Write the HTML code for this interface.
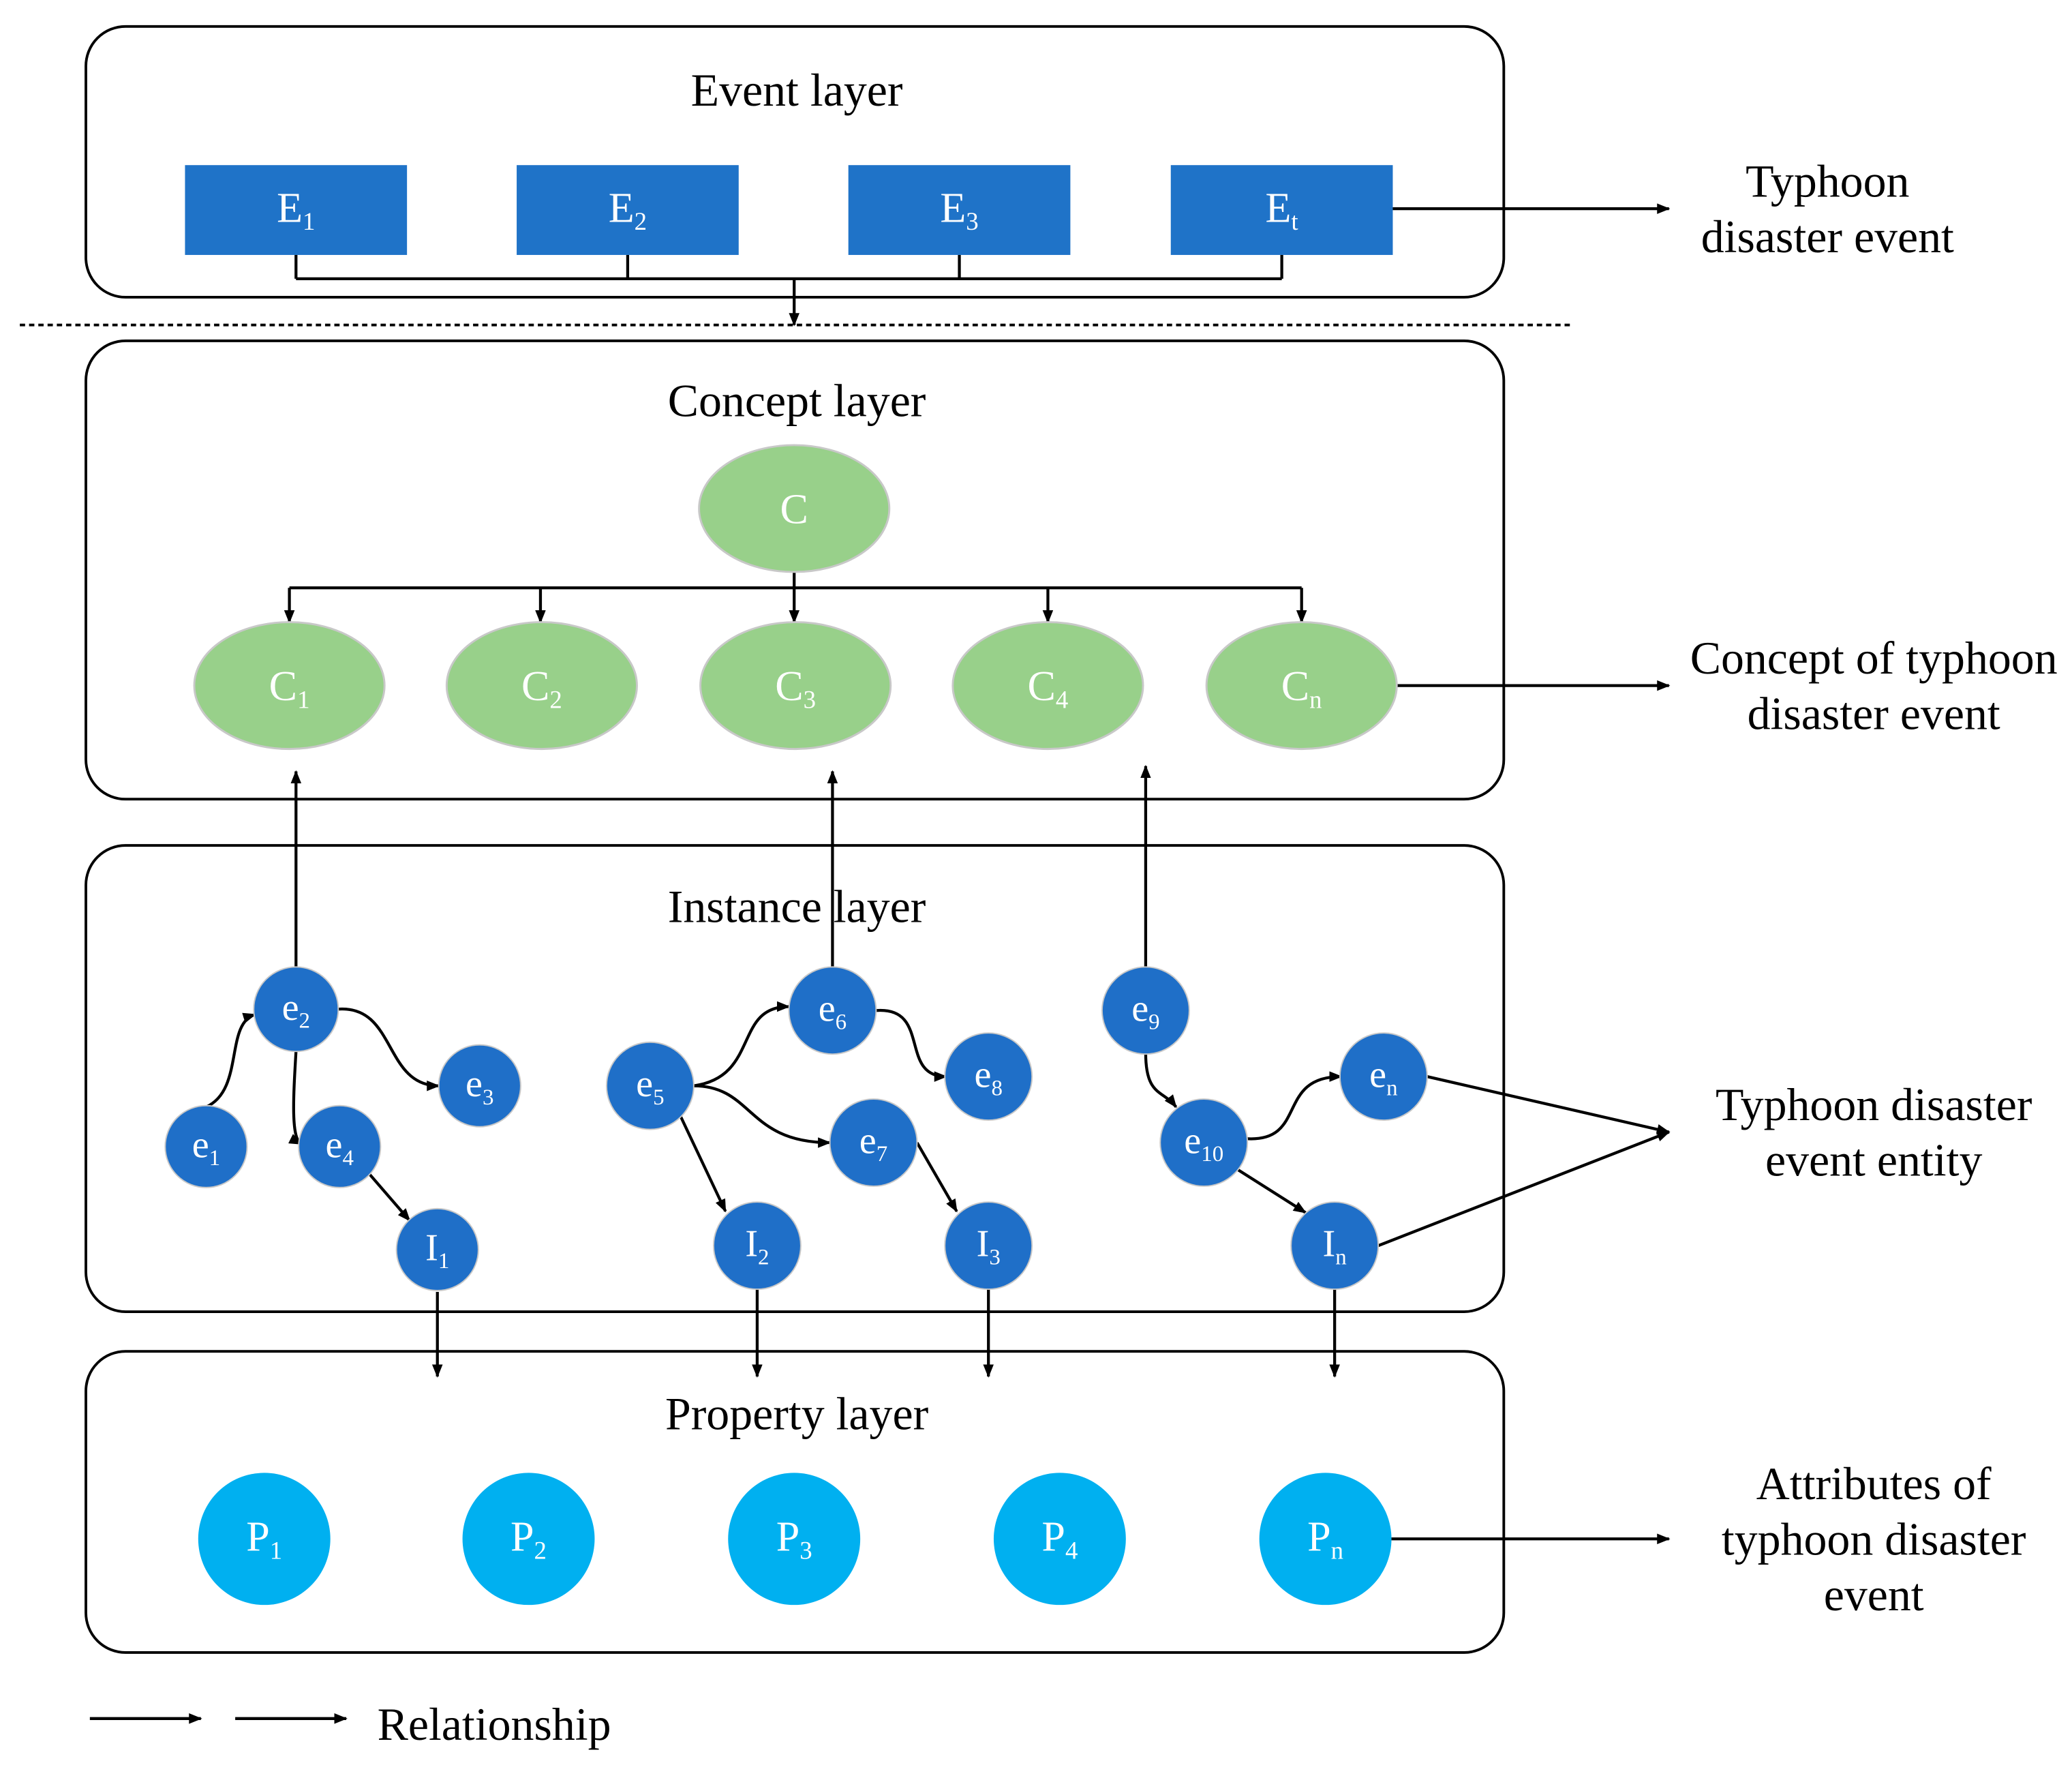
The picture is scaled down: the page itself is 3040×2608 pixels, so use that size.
<!DOCTYPE html>
<html><head><meta charset="utf-8"><style>
html,body{margin:0;padding:0;background:#fff;}
svg{display:block;}
text{font-family:"Liberation Serif",serif;}
</style></head><body>
<svg width="3040" height="2608" viewBox="0 0 1568 1346" preserveAspectRatio="none" xmlns="http://www.w3.org/2000/svg">
<defs>
<marker id="a" markerWidth="10" markerHeight="8" refX="9" refY="4" orient="auto" markerUnits="userSpaceOnUse"><path d="M0,0 L10,4 L0,8 Z" fill="#000"/></marker>
</defs>
<g fill="none" stroke="#000" stroke-width="2">
<rect x="65" y="20" width="1073" height="205" rx="30"/>
<rect x="65" y="258" width="1073" height="347" rx="30"/>
<rect x="65" y="640" width="1073" height="353" rx="30"/>
<rect x="65" y="1023" width="1073" height="228" rx="30"/>
<line x1="15" y1="246" x2="1188" y2="246" stroke-dasharray="4,3"/>
</g>
<g font-size="35" text-anchor="middle" fill="#000">
<text x="603" y="80">Event layer</text>
<text x="603" y="315">Concept layer</text>
<text x="603" y="698">Instance layer</text>
<text x="603" y="1082">Property layer</text>
<text x="1383" y="149">Typhoon</text>
<text x="1383" y="191">disaster event</text>
<text x="1418" y="510">Concept of typhoon</text>
<text x="1418" y="552">disaster event</text>
<text x="1418" y="848">Typhoon disaster</text>
<text x="1418" y="890">event entity</text>
<text x="1418" y="1135">Attributes of</text>
<text x="1418" y="1177">typhoon disaster</text>
<text x="1418" y="1219">event</text>
<text x="374" y="1317">Relationship</text>
</g>
<g fill="#1f73c8">
<rect x="140" y="125" width="168" height="68"/>
<rect x="391" y="125" width="168" height="68"/>
<rect x="642" y="125" width="168" height="68"/>
<rect x="886" y="125" width="168" height="68"/>
</g>
<g fill="none" stroke="#000" stroke-width="2.2">
<path d="M224,193 V211 M475,193 V211 M726,193 V211 M970,193 V211 M224,211 H970"/>
<line x1="601" y1="211" x2="601" y2="246" marker-end="url(#a)"/>
<line x1="1054" y1="158" x2="1263" y2="158" marker-end="url(#a)"/>
<path d="M601,433 V445 M219,445 H985"/>
<line x1="219" y1="445" x2="219" y2="471" marker-end="url(#a)"/>
<line x1="409" y1="445" x2="409" y2="471" marker-end="url(#a)"/>
<line x1="601" y1="445" x2="601" y2="471" marker-end="url(#a)"/>
<line x1="793" y1="445" x2="793" y2="471" marker-end="url(#a)"/>
<line x1="985" y1="445" x2="985" y2="471" marker-end="url(#a)"/>
<line x1="1057" y1="519" x2="1263" y2="519" marker-end="url(#a)"/>
<line x1="224" y1="732" x2="224" y2="584" marker-end="url(#a)"/>
<line x1="630" y1="733" x2="630" y2="584" marker-end="url(#a)"/>
<line x1="867" y1="733" x2="867" y2="580" marker-end="url(#a)"/>
<path d="M156,838 C185,825 170,775 193,768" marker-end="url(#a)"/>
<path d="M255,764 C300,760 290,822 332,822" marker-end="url(#a)"/>
<path d="M224,796 C222,830 220,862 228,866" marker-end="url(#a)"/>
<line x1="278" y1="887" x2="310" y2="924" marker-end="url(#a)"/>
<path d="M525,822 C575,815 555,762 597,762" marker-end="url(#a)"/>
<path d="M525,822 C570,822 565,865 628,865" marker-end="url(#a)"/>
<line x1="515" y1="845" x2="549" y2="917" marker-end="url(#a)"/>
<path d="M663,765 C705,762 680,815 716,815" marker-end="url(#a)"/>
<line x1="694" y1="865" x2="724" y2="917" marker-end="url(#a)"/>
<path d="M867,797 C867,830 880,825 890,838" marker-end="url(#a)"/>
<path d="M943,862 C990,865 965,815 1015,815" marker-end="url(#a)"/>
<line x1="936" y1="885" x2="988" y2="918" marker-end="url(#a)"/>
<line x1="1080" y1="815" x2="1263" y2="857" marker-end="url(#a)"/>
<line x1="1043" y1="943" x2="1263" y2="857" marker-end="url(#a)"/>
<line x1="331" y1="978" x2="331" y2="1042" marker-end="url(#a)"/>
<line x1="573" y1="975" x2="573" y2="1042" marker-end="url(#a)"/>
<line x1="748" y1="975" x2="748" y2="1042" marker-end="url(#a)"/>
<line x1="1010" y1="975" x2="1010" y2="1042" marker-end="url(#a)"/>
<line x1="1053" y1="1165" x2="1263" y2="1165" marker-end="url(#a)"/>
<line x1="68" y1="1301" x2="152" y2="1301" marker-end="url(#a)"/>
<line x1="178" y1="1301" x2="262" y2="1301" marker-end="url(#a)"/>
</g>
<g fill="#98d08a" stroke="#c8c8c8" stroke-width="1.5">
<ellipse cx="601" cy="385" rx="72" ry="48"/>
<ellipse cx="219" cy="519" rx="72" ry="48"/>
<ellipse cx="410" cy="519" rx="72" ry="48"/>
<ellipse cx="602" cy="519" rx="72" ry="48"/>
<ellipse cx="793" cy="519" rx="72" ry="48"/>
<ellipse cx="985" cy="519" rx="72" ry="48"/>
</g>
<g fill="#1f6fc8" stroke="#c8c8c8" stroke-width="1">
<circle cx="224" cy="764" r="32"/><circle cx="156" cy="868" r="31"/><circle cx="257" cy="868" r="31"/>
<circle cx="363" cy="822" r="31"/><circle cx="331" cy="946" r="31"/><circle cx="492" cy="822" r="33"/>
<circle cx="630" cy="765" r="33"/><circle cx="748" cy="815" r="33"/><circle cx="661" cy="865" r="33"/>
<circle cx="573" cy="943" r="33"/><circle cx="748" cy="943" r="33"/><circle cx="867" cy="765" r="33"/>
<circle cx="911" cy="865" r="33"/><circle cx="1047" cy="815" r="33"/><circle cx="1010" cy="943" r="33"/>
</g>
<g fill="#00b0f0">
<circle cx="200" cy="1165" r="50"/><circle cx="400" cy="1165" r="50"/><circle cx="601" cy="1165" r="50"/>
<circle cx="802" cy="1165" r="50"/><circle cx="1003" cy="1165" r="50"/>
</g>
<g fill="#fff" font-size="32" text-anchor="middle">
<text x="224" y="168">E<tspan font-size="19" dy="6">1</tspan></text>
<text x="475" y="168">E<tspan font-size="19" dy="6">2</tspan></text>
<text x="726" y="168">E<tspan font-size="19" dy="6">3</tspan></text>
<text x="970" y="168">E<tspan font-size="19" dy="6">t</tspan></text>
<text x="601" y="396">C</text>
<text x="219" y="530">C<tspan font-size="19" dy="6">1</tspan></text>
<text x="410" y="530">C<tspan font-size="19" dy="6">2</tspan></text>
<text x="602" y="530">C<tspan font-size="19" dy="6">3</tspan></text>
<text x="793" y="530">C<tspan font-size="19" dy="6">4</tspan></text>
<text x="985" y="530">C<tspan font-size="19" dy="6">n</tspan></text>
</g>
<g fill="#fff" font-size="29" text-anchor="middle">
<text x="224" y="772">e<tspan font-size="17" dy="6">2</tspan></text>
<text x="156" y="876">e<tspan font-size="17" dy="6">1</tspan></text>
<text x="257" y="876">e<tspan font-size="17" dy="6">4</tspan></text>
<text x="363" y="830">e<tspan font-size="17" dy="6">3</tspan></text>
<text x="331" y="954">I<tspan font-size="17" dy="6">1</tspan></text>
<text x="492" y="830">e<tspan font-size="17" dy="6">5</tspan></text>
<text x="630" y="773">e<tspan font-size="17" dy="6">6</tspan></text>
<text x="748" y="823">e<tspan font-size="17" dy="6">8</tspan></text>
<text x="661" y="873">e<tspan font-size="17" dy="6">7</tspan></text>
<text x="573" y="951">I<tspan font-size="17" dy="6">2</tspan></text>
<text x="748" y="951">I<tspan font-size="17" dy="6">3</tspan></text>
<text x="867" y="773">e<tspan font-size="17" dy="6">9</tspan></text>
<text x="911" y="873">e<tspan font-size="17" dy="6">10</tspan></text>
<text x="1047" y="823">e<tspan font-size="17" dy="6">n</tspan></text>
<text x="1010" y="951">I<tspan font-size="17" dy="6">n</tspan></text>
</g>
<g fill="#fff" font-size="32" text-anchor="middle">
<text x="200" y="1174">P<tspan font-size="19" dy="6">1</tspan></text>
<text x="400" y="1174">P<tspan font-size="19" dy="6">2</tspan></text>
<text x="601" y="1174">P<tspan font-size="19" dy="6">3</tspan></text>
<text x="802" y="1174">P<tspan font-size="19" dy="6">4</tspan></text>
<text x="1003" y="1174">P<tspan font-size="19" dy="6">n</tspan></text>
</g>
</svg>
</body></html>
